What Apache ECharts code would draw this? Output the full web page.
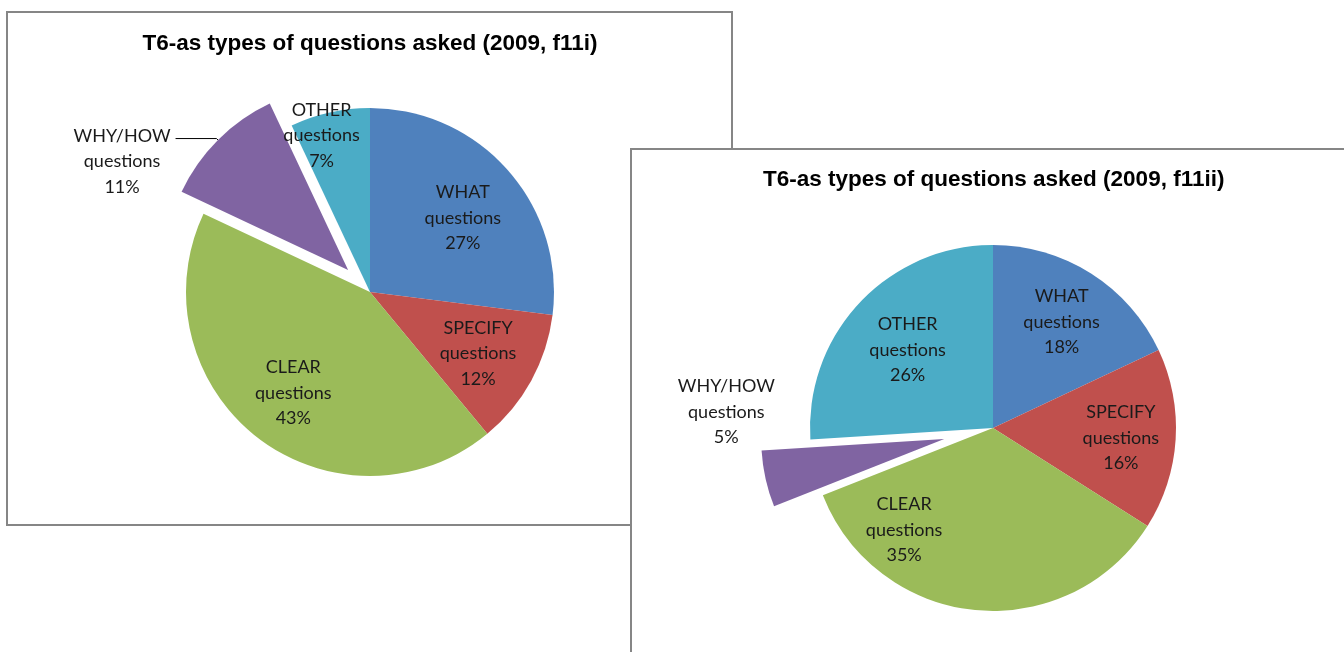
<!DOCTYPE html>
<html>
<head>
<meta charset="utf-8">
<script src="https://cdn.jsdelivr.net/npm/echarts@6/dist/echarts.min.js"></script>
<style>
  html, body { margin: 0; padding: 0; background: #ffffff; }
  body { width: 1344px; height: 652px; position: relative; overflow: hidden; }
  #c1 { position: absolute; left: 0; top: 0; width: 740px; height: 540px; }
  #c2 { position: absolute; left: 630px; top: 148px; width: 714px; height: 504px; background: #ffffff; }
</style>
</head>
<body>
<div id="c1"></div>
<div id="c2"></div>
<script>
// Question categories, in clockwise order from 12 o'clock
const categories = ['WHAT questions', 'SPECIFY questions', 'CLEAR questions', 'WHY/HOW questions', 'OTHER questions'];
const sliceColors = ['#4f81bd', '#c0504d', '#9bbb59', '#8064a2', '#4bacc6'];

// Shares (%) for each observation sheet
const titleI = 'T6-as types of questions asked (2009, f11i)';
const valuesI = [27, 12, 43, 11, 7];
const titleII = 'T6-as types of questions asked (2009, f11ii)';
const valuesII = [18, 16, 35, 5, 26];

// Slice pulled out from the pie
const explodedCategory = 'WHY/HOW questions';

const FONT = 'Lato, "Open Sans", sans-serif';
const TITLE_FONT = '"Liberation Sans", Arial, sans-serif';
const LABEL_SIZE = 18;
const LABEL_LINE_H = 25.5;

function labelText(p) {
  return p.name.replace(' ', '\n') + '\n' + p.value + '%';
}

function richLabelText(p) {
  return p.name.replace(' ', '\n').split('\n').concat([p.value + '%']).map(s => '{c|' + s + '}').join('\n');
}

const richCentered = { c: { align: 'center', color: '#1a1a1a', fontFamily: FONT, fontSize: LABEL_SIZE, lineHeight: LABEL_LINE_H } };

// Places in-slice labels along a polar direction (degrees clockwise from 12 o'clock,
// fraction of radius). Without an explicit angle, the slice's own direction is kept.
function makeLabelLayout(cx, cy, r, placement) {
  return function (params) {
    const p = placement[categories[params.dataIndex]];
    if (!p) return {};
    const lr = params.labelRect;
    let ang;
    if (p.angle != null) {
      ang = p.angle * Math.PI / 180;
    } else {
      const lx = lr.x + lr.width / 2, ly = lr.y + lr.height / 2;
      ang = Math.atan2(lx - cx, -(ly - cy));
    }
    return {
      x: cx + p.f * r * Math.sin(ang),
      y: cy - p.f * r * Math.cos(ang) + 2,
      align: 'center',
      verticalAlign: 'middle'
    };
  };
}

function buildData(values, overrides) {
  return categories.map((name, i) => {
    const item = { name: name, value: values[i], itemStyle: { color: sliceColors[i] } };
    if (name === explodedCategory) {
      item.selected = true;
      item.label = overrides.label;
      item.labelLine = overrides.labelLine;
    }
    return item;
  });
}

function pieSeries(cx, cy, r, offset, data, placement) {
  return {
    type: 'pie',
    center: [cx, cy],
    radius: r,
    startAngle: 90,
    clockwise: true,
    selectedMode: 'multiple',
    selectedOffset: offset,
    avoidLabelOverlap: false,
    silent: true,
    emphasis: { disabled: true },
    select: { itemStyle: { borderWidth: 0 } },
    itemStyle: { borderWidth: 0 },
    label: {
      show: true,
      position: 'inside',
      formatter: labelText,
      color: '#1a1a1a',
      fontFamily: FONT,
      fontSize: LABEL_SIZE,
      lineHeight: LABEL_LINE_H
    },
    labelLine: { show: false },
    labelLayout: makeLabelLayout(cx, cy, r, placement),
    data: data
  };
}

function titleOption(text, left, top) {
  return {
    text: text,
    left: left,
    top: top,
    padding: 0,
    textStyle: { fontFamily: TITLE_FONT, fontWeight: 'bold', fontSize: 22.5, lineHeight: 26, color: '#000' }
  };
}

// ---- Chart f11i ----
const chart1 = echarts.init(document.getElementById('c1'), null, { renderer: 'canvas' });
const cx1 = 370, cy1 = 292, r1 = 184;
chart1.setOption({
  animation: false,
  backgroundColor: 'transparent',
  title: titleOption(titleI, 'center', 31),
  graphic: [{
    type: 'rect',
    shape: { x: 7, y: 12, width: 725, height: 513 },
    style: { fill: '#ffffff', stroke: '#868686', lineWidth: 2 },
    z: -10,
    silent: true
  }],
  series: [pieSeries(cx1, cy1, r1, 31, buildData(valuesI, {
    label: {
      position: 'outside',
      padding: [46, 0, 0, 0],
      distanceToLabelLine: 5,
      formatter: richLabelText,
      rich: richCentered
    },
    labelLine: { show: true, length: 2, length2: 41, smooth: false, lineStyle: { color: '#000', width: 1 } }
  }), {
    'WHAT questions': { f: 0.652, angle: 50.7 },
    'SPECIFY questions': { f: 0.67 },
    'CLEAR questions': { f: 0.68 },
    'OTHER questions': { f: 0.9, angle: 343 }
  })]
});

// ---- Chart f11ii ----
const chart2 = echarts.init(document.getElementById('c2'), null, { renderer: 'canvas' });
const cx2 = 363, cy2 = 280, r2 = 183;
chart2.setOption({
  animation: false,
  backgroundColor: '#ffffff',
  title: titleOption(titleII, 133, 19),
  graphic: [{
    type: 'rect',
    shape: { x: 1, y: 1, width: 800, height: 600 },
    style: { fill: '#ffffff', stroke: '#868686', lineWidth: 2 },
    z: -10,
    silent: true
  }],
  series: [pieSeries(cx2, cy2, r2, 50, buildData(valuesII, {
    label: {
      position: 'outside',
      padding: [0, 0, 137, 0],
      distanceToLabelLine: -28,
      formatter: richLabelText,
      rich: richCentered
    },
    labelLine: { show: false, length: 8, length2: 11 }
  }), {
    'WHAT questions': { f: 0.70 },
    'SPECIFY questions': { f: 0.70 },
    'CLEAR questions': { f: 0.73, angle: 221.7 },
    'OTHER questions': { f: 0.64 }
  })]
});
</script>
</body>
</html>
